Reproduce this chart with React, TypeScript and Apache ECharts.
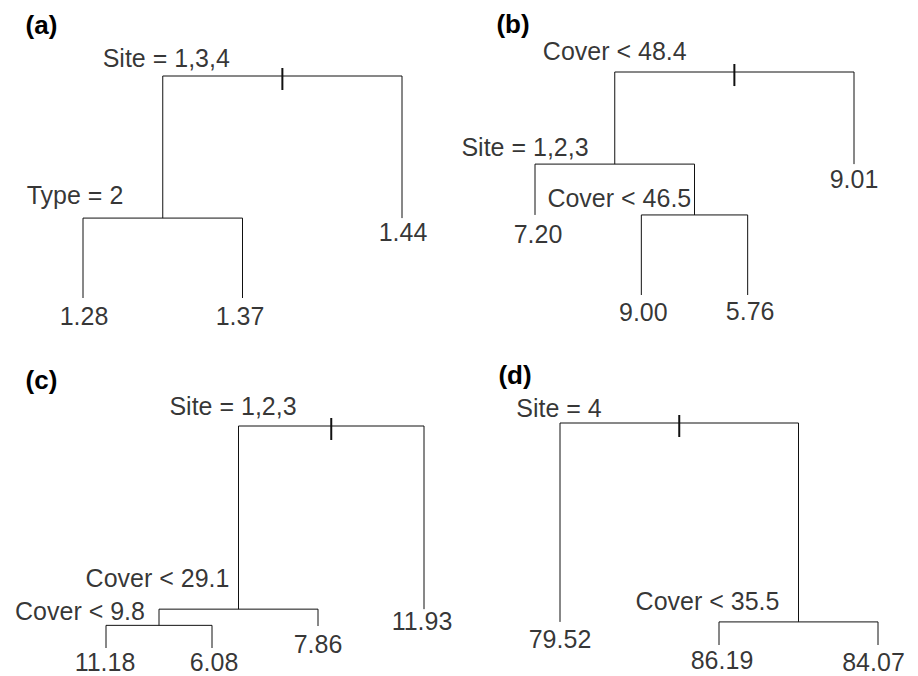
import React, { useEffect, useRef } from "react";
import * as echarts from "echarts";

type TreeNode = {
  split?: string;
  leaf?: string;
  dev: number; // relative node deviance (root = 1)
  left?: TreeNode;
  right?: TreeNode;
};

// ---------------- DATA ----------------
const panelTags = ["(a)", "(b)", "(c)", "(d)"];

const treeA: TreeNode = {
  split: "Site = 1,3,4", dev: 1,
  left: {
    split: "Type = 2", dev: 0.36,
    left: { leaf: "1.28", dev: 0 },
    right: { leaf: "1.37", dev: 0 },
  },
  right: { leaf: "1.44", dev: 0.36 },
};

const treeB: TreeNode = {
  split: "Cover < 48.4", dev: 1,
  left: {
    split: "Site = 1,2,3", dev: 0.587,
    left: { leaf: "7.20", dev: 0.359 },
    right: {
      split: "Cover < 46.5", dev: 0.359,
      left: { leaf: "9.00", dev: 0 },
      right: { leaf: "5.76", dev: 0 },
    },
  },
  right: { leaf: "9.01", dev: 0.587 },
};

const treeC: TreeNode = {
  split: "Site = 1,2,3", dev: 1,
  left: {
    split: "Cover < 29.1", dev: 0.175,
    left: {
      split: "Cover < 9.8", dev: 0.102,
      left: { leaf: "11.18", dev: 0 },
      right: { leaf: "6.08", dev: 0 },
    },
    right: { leaf: "7.86", dev: 0.099 },
  },
  right: { leaf: "11.93", dev: 0.175 },
};

const treeD: TreeNode = {
  split: "Site = 4", dev: 1,
  left: { leaf: "79.52", dev: 0.104 },
  right: {
    split: "Cover < 35.5", dev: 0.104,
    left: { leaf: "86.19", dev: 0 },
    right: { leaf: "84.07", dev: 0 },
  },
};

const trees = [treeA, treeB, treeC, treeD];

// ---------------- LAYOUT / STYLE ----------------
const gridBoxes = [
  { left: 83, top: 76, width: 319, height: 222 },
  { left: 535, top: 72, width: 319, height: 223 },
  { left: 106, top: 426, width: 318, height: 222 },
  { left: 560, top: 423, width: 318, height: 222 },
];
const tagPos = [
  [41.5, 24.5],
  [513, 23.5],
  [41.5, 380],
  [515, 374.5],
];
// label nudges in px: split labels (pre-order), anchored at left child x / node height
const splitNudge = [
  [[3.5, -18.5], [-8, -22.7]],
  [[0, -20.7], [-10, -17], [-22, -17]],
  [[-5.5, -20.5], [-1.5, -31.3], [-26, -14.5]],
  [[-1, -15], [-11.5, -21]],
];
// leaf labels (in-order), anchored at leaf end
const leafNudge = [
  [[1, 18], [-2.5, 18], [1, 14]],
  [[3, 19], [2, 16.7], [2.5, 16], [0, 15]],
  [[-1, 14], [2, 14], [0, 18], [-2, 12]],
  [[0, 17], [3, 14.5], [-4.5, 17]],
];
const TICK_UP = 0.036;
const TICK_DOWN = 0.063;
const FONT = "'Liberation Sans', Arial, sans-serif";
const LINE_COLOR = "#111";

function layoutTree(root: TreeNode) {
  let counter = 0;
  const splits: { name: string; lx: number; y: number }[] = [];
  const leaves: { name: string; x: number; y: number }[] = [];
  const brackets: number[][][] = [];
  function walk(n: TreeNode): number {
    if (!n.left || !n.right) {
      counter += 1;
      leaves.push({ name: n.leaf as string, x: counter, y: n.dev });
      return counter;
    }
    const entry = { name: n.split as string, lx: 0, y: n.dev };
    splits.push(entry);
    const lx = walk(n.left);
    const rx = walk(n.right);
    entry.lx = lx;
    brackets.push([
      [lx, n.left.dev],
      [lx, n.dev],
      [rx, n.dev],
      [rx, n.right.dev],
    ]);
    return (lx + rx) / 2;
  }
  const rootX = walk(root);
  return { splits, leaves, brackets, rootX, rootDev: root.dev, nLeaves: counter };
}

export default function App() {
  const ref = useRef<HTMLDivElement>(null);

  useEffect(() => {
    if (!ref.current) return;
    const chart = echarts.init(ref.current, undefined, { renderer: "svg" });

    const grids: any[] = [];
    const xAxes: any[] = [];
    const yAxes: any[] = [];
    const series: any[] = [];

    trees.forEach((tree, i) => {
      const L = layoutTree(tree);
      grids.push({ ...gridBoxes[i], containLabel: false });
      xAxes.push({ type: "value", gridIndex: i, min: 1, max: L.nLeaves, show: false });
      yAxes.push({ type: "value", gridIndex: i, min: 0, max: 1, show: false });

      series.push({
        type: "lines",
        coordinateSystem: "cartesian2d",
        xAxisIndex: i,
        yAxisIndex: i,
        polyline: true,
        clip: false,
        silent: true,
        lineStyle: { color: LINE_COLOR, width: 1, opacity: 1 },
        data: L.brackets.map((c) => ({ coords: c })),
      });
      series.push({
        type: "lines",
        coordinateSystem: "cartesian2d",
        xAxisIndex: i,
        yAxisIndex: i,
        polyline: true,
        clip: false,
        silent: true,
        lineStyle: { color: LINE_COLOR, width: 2, opacity: 1 },
        data: [
          {
            coords: [
              [L.rootX, L.rootDev + TICK_UP],
              [L.rootX, L.rootDev - TICK_DOWN],
            ],
          },
        ],
      });

      const labelBase = {
        show: true,
        position: "inside",
        formatter: "{b}",
        color: "#000",
        fontSize: 25,
        fontFamily: FONT,
      };
      const labelData = [
        ...L.splits.map((s, k) => ({
          name: s.name,
          value: [s.lx, s.y],
          label: { ...labelBase, offset: splitNudge[i][k] },
        })),
        ...L.leaves.map((s, k) => ({
          name: s.name,
          value: [s.x, s.y],
          label: { ...labelBase, offset: leafNudge[i][k] },
        })),
      ];
      series.push({
        type: "scatter",
        xAxisIndex: i,
        yAxisIndex: i,
        symbolSize: 0,
        clip: false,
        silent: true,
        itemStyle: { color: "transparent" },
        label: labelBase,
        data: labelData,
      });
    });

    chart.setOption({
      animation: false,
      backgroundColor: "#fff",
      grid: grids,
      xAxis: xAxes,
      yAxis: yAxes,
      series,
      graphic: panelTags.map((t, i) => ({
        type: "text",
        x: tagPos[i][0],
        y: tagPos[i][1],
        style: {
          text: t,
          fill: "#000",
          font: `bold 26px ${FONT}`,
          textAlign: "center",
          textVerticalAlign: "middle",
        },
      })),
    });

    return () => chart.dispose();
  }, []);

  return (
    <div
      ref={ref}
      style={{ position: "absolute", left: 0, top: 0, width: 918, height: 676 }}
    />
  );
}
